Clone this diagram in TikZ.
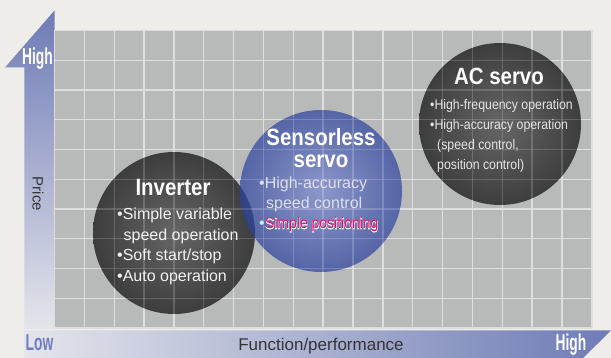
\documentclass[tikz,border=0pt]{standalone}
\usepackage{fontspec}
\setmainfont{Liberation Sans}
\newfontfamily\headfont{Liberation Sans}[FakeStretch=0.87]
\newfontfamily\axisfont{Liberation Sans}[FakeStretch=0.6]
\newfontfamily\acfont{Liberation Sans}[FakeStretch=0.88]
\newfontfamily\pinkfont{Liberation Sans}[FakeStretch=0.9]
\newfontfamily\pinkhalo{Liberation Sans}[FakeStretch=0.9, FakeBold=4]
\definecolor{bg}{HTML}{EEEDE9}
\definecolor{cellgray}{HTML}{B8BAB9}
\definecolor{gridline}{HTML}{DEDEDE}
\definecolor{axisblue}{HTML}{6E7BB6}
\definecolor{axislight}{HTML}{E4E5EB}
\definecolor{lowblue}{HTML}{6F7CBC}
\definecolor{pinktext}{HTML}{E5106A}
\definecolor{darkin}{HTML}{4A4A4A}
\definecolor{darkout}{HTML}{141414}
\definecolor{bluein}{HTML}{7B89D3}
\definecolor{blueout}{HTML}{2B419E}
\definecolor{labeltext}{HTML}{353535}
\definecolor{sstext}{HTML}{DDE0EC}
\tikzset{
  bubble/.style={circle, inner sep=0pt, minimum size=162pt, draw=none},
  darkbubble/.style={bubble, inner color=darkin, outer color=darkout, opacity=0.75},
  bluebubble/.style={bubble, inner color=bluein, outer color=blueout, opacity=0.7},
  gridstroke/.style={gridline, line width=1.4pt},
  heading/.style={inner sep=0pt, anchor=base, text=white, font=\headfont\bfseries\fontsize{23.5}{23.5}\selectfont},
  item/.style={inner sep=0pt, anchor=base west, text=white!95!black, font=\fontsize{16}{16}\selectfont},
  acitem/.style={inner sep=0pt, anchor=base west, text=white!90!black, font=\acfont\fontsize{14}{14}\selectfont},
  axislabel/.style={inner sep=0pt, anchor=base, font=\axisfont\bfseries\fontsize{23}{23}\selectfont},
  pinkitem/.style={inner sep=0pt, anchor=base west, font=\pinkfont\fontsize{15.5}{15.5}\selectfont},
  halo/.style={inner sep=0pt, anchor=base west, text=white, font=\pinkhalo\fontsize{15.5}{15.5}\selectfont}
}
\begin{document}
\begin{tikzpicture}[x=1pt,y=-1pt]
\useasboundingbox (0,0) rectangle (611,358);
\fill[bg] (0,0) rectangle (611,358);
% axes bands
\shade[top color=axisblue, bottom color=axislight] (54.5,10.5) -- (54.5,329) -- (24.3,329) -- (24.3,67.5) -- (5,67.5) -- cycle;
\shade[left color=axislight, right color=axisblue] (24.3,330.5) -- (611,330.5) -- (583,358) -- (24.3,358) -- cycle;
% grid
\fill[cellgray] (54.5,30.5) rectangle (591.8,328);
\foreach \i in {0,...,18} \draw[gridstroke] ({54.5+29.85*\i},30.5) -- ({54.5+29.85*\i},328);
\foreach \j in {0,...,10} \draw[gridstroke] (54.5,{30.5+29.75*\j}) -- (591.8,{30.5+29.75*\j});
% bubbles
\node[darkbubble] (inv) at (174,233) {};
\node[darkbubble] (ac) at (500,124) {};
\node[bluebubble] (ss) at (321,191) {};
% faint grid showing through the bubbles
\begin{scope}[opacity=0.16]
\foreach \i in {0,...,18} \draw[gridstroke] ({54.5+29.85*\i},30.5) -- ({54.5+29.85*\i},328);
\foreach \j in {0,...,10} \draw[gridstroke] (54.5,{30.5+29.75*\j}) -- (591.8,{30.5+29.75*\j});
\end{scope}
% inverter text
\node[heading] (invtitle) at (173,196) {Inverter};
\node[item] (inv1) at (117,220) {\textbullet Simple variable};
\node[item] (inv2) at (123.5,240.5) {speed operation};
\node[item] (inv3) at (117,261) {\textbullet Soft start/stop};
\node[item] (inv4) at (117,281.5) {\textbullet Auto operation};
% sensorless text
\node[heading] (sstitle1) at (321,146) {Sensorless};
\node[heading] (sstitle2) at (321,168) {servo};
\node[item, text=sstext] (ss1) at (259,189) {\textbullet High-accuracy};
\node[item, text=sstext] (ss2) at (266,209) {speed control};
\node[item, text=sstext] (ssb) at (259,229) {\textbullet};
\node[halo] (ss3halo) at (265,229) {Simple positioning};
\node[pinkitem, text=pinktext] (ss3) at (265,229) {Simple positioning};
% ac servo text
\node[heading] (actitle) at (499,85) {AC servo};
\node[acitem] (ac1) at (430,110) {\textbullet High-frequency operation};
\node[acitem] (ac2) at (430,130) {\textbullet High-accuracy operation};
\node[acitem] (ac3) at (437,150) {(speed control,};
\node[acitem] (ac4) at (437,170) {position control)};
% axis labels
\node[axislabel, text=white] (yhigh) at (37.5,65) {High};
\node[axislabel, text=lowblue] (xlow) at (39.5,351) {Low};
\node[axislabel, text=white] (xhigh) at (571,350) {High};
\node[inner sep=0pt, rotate=-90, text=labeltext, font=\fontsize{15}{15}\selectfont] (price) at (38,194) {Price};
\node[inner sep=0pt, anchor=base, text=labeltext, font=\fontsize{17}{17}\selectfont] (func) at (321,350) {Function/performance};
\end{tikzpicture}
\end{document}
